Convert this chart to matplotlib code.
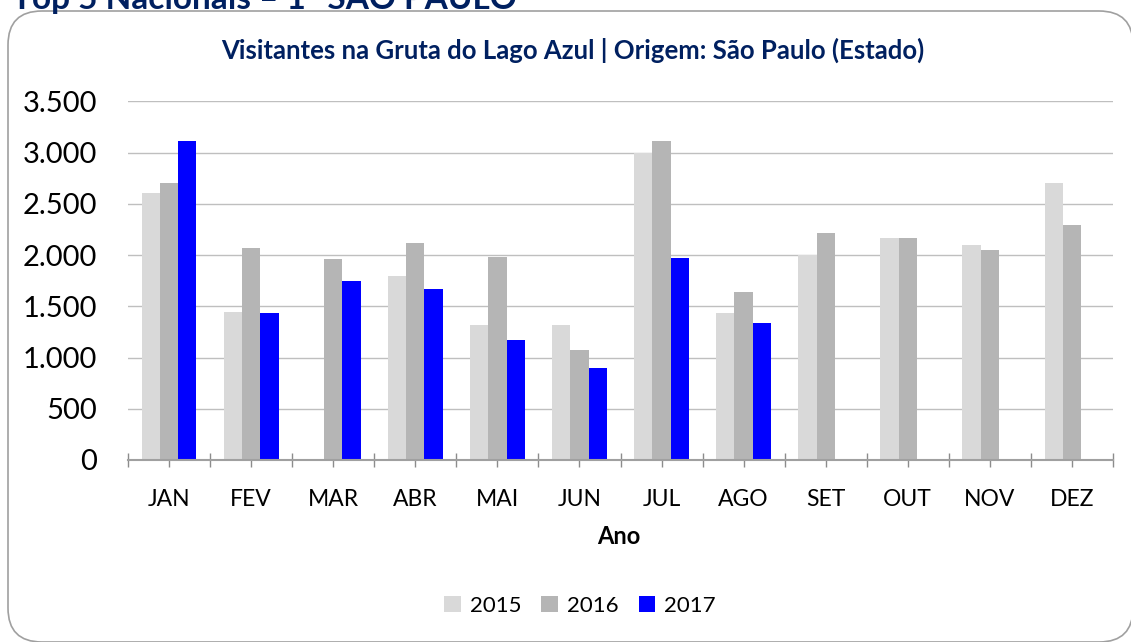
import numpy as np
import matplotlib
matplotlib.use("Agg")
import matplotlib.pyplot as plt
from matplotlib.patches import FancyBboxPatch, Patch
from matplotlib.ticker import FuncFormatter, FixedLocator

plt.rcParams['font.family'] = ['Lato', 'DejaVu Sans']

months = ["JAN", "FEV", "MAR", "ABR", "MAI", "JUN", "JUL", "AGO", "SET", "OUT", "NOV", "DEZ"]
v2015 = [2610, 1445, np.nan, 1795, 1320, 1315, 2995, 1430, 2005, 2165, 2100, 2705]
v2016 = [2705, 2070, 1960, 2115, 1980, 1070, 3112, 1638, 2212, 2170, 2048, 2290]
v2017 = [3112, 1435, 1750, 1666, 1172, 895, 1970, 1338, np.nan, np.nan, np.nan, np.nan]
series_names = ["2015", "2016", "2017"]
colors = ["#D9D9D9", "#B5B5B5", "#0000FF"]

W, H = 1131, 642
fig = plt.figure(figsize=(W / 100, H / 100), dpi=100)

def fx(px):
    return px / W

def fy(py):
    return 1 - py / H

# Rounded outer box
box = FancyBboxPatch((fx(8), fy(642)), fx(1133) - fx(8), fy(11) - fy(642),
                     boxstyle="round,pad=0,rounding_size=0.03",
                     transform=fig.transFigure, facecolor="white",
                     edgecolor="#A0A0A0", linewidth=1.2, zorder=-5,
                     mutation_aspect=W / H)
fig.patches.append(box)

navy = "#002060"
fig.text(fx(12), fy(9), "Top 5 Nacionais – 1º SÃO PAULO", color=navy,
         fontsize=24, fontweight="bold", ha="left", va="baseline")

fig.text(fx(573), fy(50), "Visitantes na Gruta do Lago Azul | Origem: São Paulo (Estado)",
         color=navy, fontsize=18.5, fontweight="bold", ha="center", va="center")

ax = fig.add_axes([fx(128), fy(460), fx(1113) - fx(128), fy(101.3) - fy(460)])
ax.patch.set_alpha(0)
x = np.arange(len(months))
bw = 0.223
for i, (vals, c, n) in enumerate(zip([v2015, v2016, v2017], colors, series_names)):
    ax.bar(x + (i - 1) * bw, vals, width=bw, color=c, label=n, zorder=3, linewidth=0)

ax.set_xlim(-0.5, len(months) - 0.5)
ax.set_ylim(0, 3500)
ax.set_yticks(np.arange(0, 3501, 500))
ax.yaxis.set_major_formatter(FuncFormatter(lambda v, p: f"{int(v):,}".replace(",", ".")))
ax.grid(axis="y", color="#BFBFBF", linewidth=1.0, zorder=0)
ax.set_axisbelow(True)
for s in ["left", "right", "top"]:
    ax.spines[s].set_visible(False)
ax.spines["bottom"].set_color("#A0A0A0")
ax.spines["bottom"].set_linewidth(1.5)
ax.spines["bottom"].set_zorder(4)

ax.set_xticks(x)
ax.set_xticklabels(months)
ax.xaxis.set_minor_locator(FixedLocator(np.arange(-0.5, len(months), 1.0)))
ax.tick_params(axis="x", which="both", direction="inout", length=10, width=1.0,
               color="#8C8C8C", labelsize=16.5, pad=16)
ax.tick_params(axis="y", length=0, labelsize=21, pad=22)
for t in ax.get_xticklines() + ax.xaxis.get_minorticklines():
    t.set_zorder(5)

fig.text(fx(619), fy(536), "Ano", fontsize=17, fontweight="bold", ha="center", va="center")

handles = [Patch(facecolor=c, edgecolor="none") for c in colors]
fig.legend(handles, series_names, loc="center", bbox_to_anchor=(fx(580), fy(606)),
           ncol=3, frameon=False, fontsize=16, handlelength=0.75, handleheight=0.75,
           handletextpad=0.4, columnspacing=0.9)

fig.savefig("out.png", dpi=100)
